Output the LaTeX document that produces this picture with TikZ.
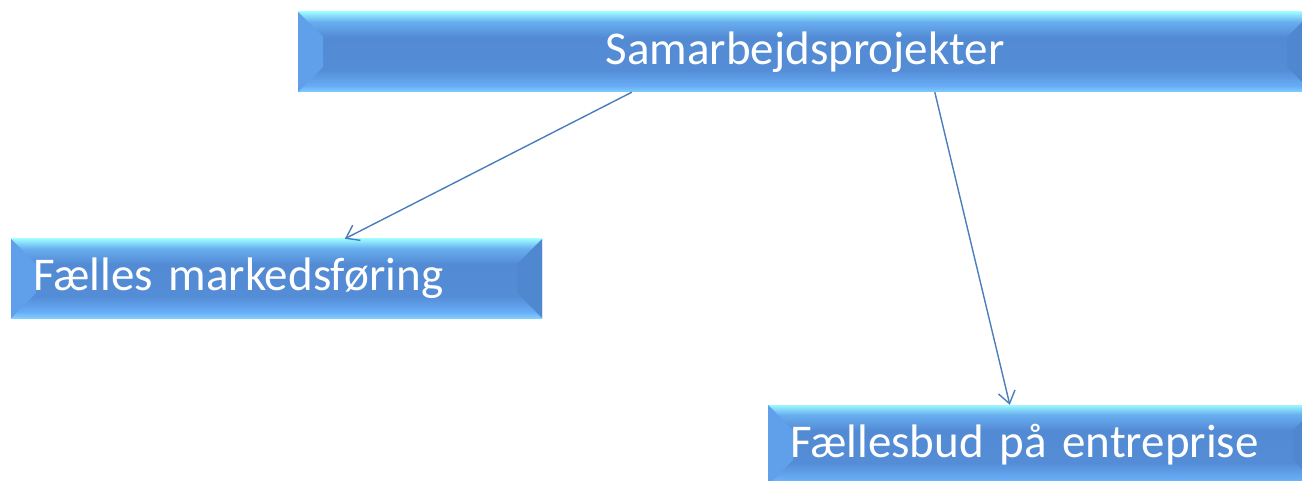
\documentclass[tikz,border=0pt]{standalone}
\usepackage{fontspec}
\setmainfont{Carlito}
\usetikzlibrary{arrows.meta,calc}
\definecolor{arrowblue}{RGB}{74,126,187}
\definecolor{leftbev}{RGB}{92,155,230}
\definecolor{rightbev}{RGB}{80,136,208}
\pgfdeclareverticalshading{bevshade}{100bp}{
  color(0bp)=(rgb,255:red,130;green,205;blue,255);
  color(25bp)=(rgb,255:red,130;green,205;blue,255);
  color(29bp)=(rgb,255:red,102;green,172;blue,245);
  color(39bp)=(rgb,255:red,84;green,140;blue,214);
  color(59bp)=(rgb,255:red,83;green,138;blue,212);
  color(69bp)=(rgb,255:red,104;green,175;blue,240);
  color(75bp)=(rgb,255:red,155;green,248;blue,255);
  color(100bp)=(rgb,255:red,155;green,248;blue,255)}
\pgfdeclarehorizontalshading{lbevshade}{100bp}{
  color(0bp)=(rgb,255:red,96;green,160;blue,235);
  color(25bp)=(rgb,255:red,96;green,160;blue,235);
  color(75bp)=(rgb,255:red,86;green,146;blue,222);
  color(100bp)=(rgb,255:red,86;green,146;blue,222)}
\tikzset{
  bevbox/.style={rectangle, inner ysep=0pt, shading=bevshade, text=white,
    font=\fontsize{47}{56}\selectfont,
    path picture={
      \shade[shading=lbevshade] (path picture bounding box.south west) -- ++(25,25)
        -- ([shift={(25,-25)}]path picture bounding box.north west)
        -- (path picture bounding box.north west) -- cycle;
      \fill[rightbev] (path picture bounding box.south east) -- ++(-25,25)
        -- ([shift={(-25,-25)}]path picture bounding box.north east)
        -- (path picture bounding box.north east) -- cycle;
    }},
  leftbox/.style={bevbox, align=left, inner xsep=22pt},
  arr/.style={draw=arrowblue, line width=1.4pt, -{Straight Barb[length=12pt,width=17pt,line width=1.4pt]}}
}
\begin{document}
\begin{tikzpicture}[x=1pt,y=1pt]
\useasboundingbox (0,0) rectangle (1302,480);
\node[bevbox, minimum width=1014pt, minimum height=80pt] (top) at (805,428) {Samarbejdsprojekter};
\node[leftbox, minimum height=79pt, text width=487pt] (left) at (276.5,201.5) {Fælles markedsføring};
\node[leftbox, minimum height=80pt, text width=506pt] (right) at (1043,35) {Fællesbud på entreprise};
\draw[arr] ($(top.south west)+(334,0)$) -- ($(left.north west)+(334,0)$);
\draw[arr] ($(top.south west)+(637,0)$) -- ($(right.north west)+(242,0)$);
\end{tikzpicture}
\end{document}
